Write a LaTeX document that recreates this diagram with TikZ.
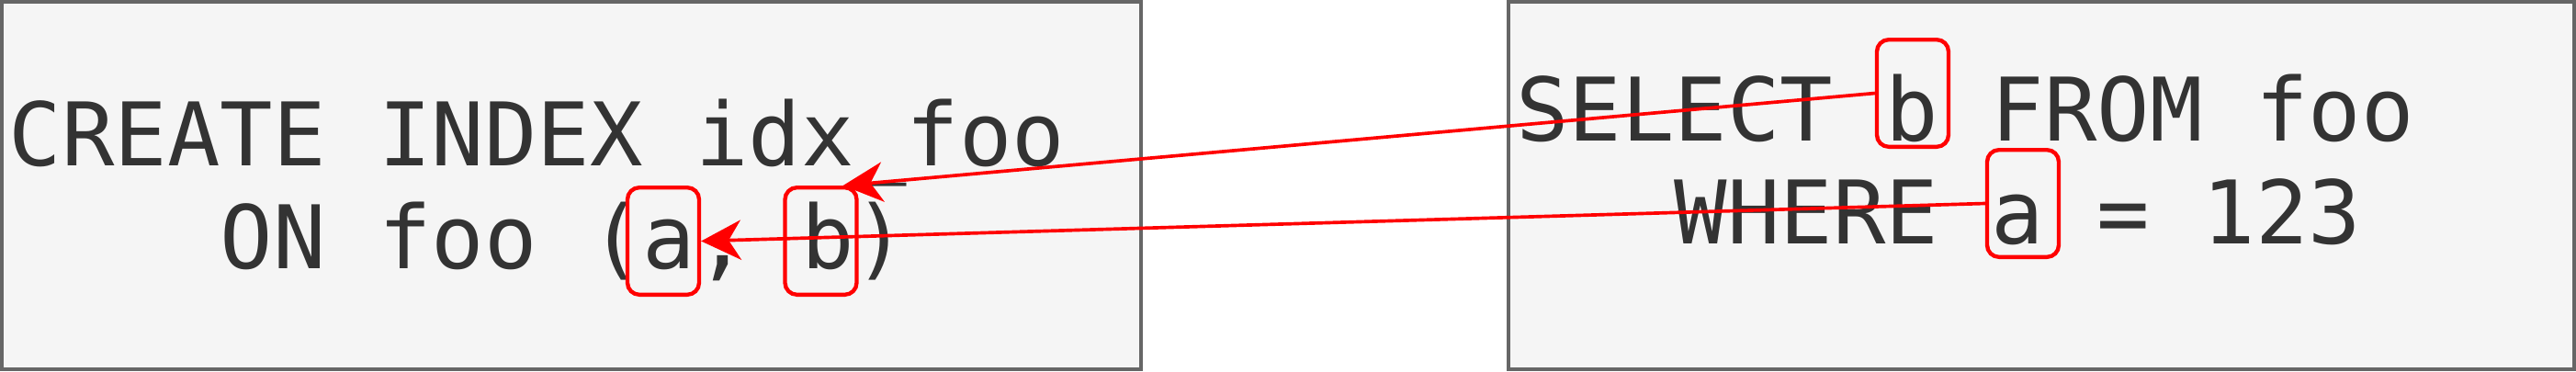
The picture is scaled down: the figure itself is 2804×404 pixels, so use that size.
\documentclass[tikz,border=0pt]{standalone}
\usepackage{fontspec}
\usetikzlibrary{arrows.meta,calc}
\newfontfamily\codefont{DejaVu Sans Mono}
\definecolor{boxgray}{HTML}{666666}
\definecolor{boxfill}{HTML}{F5F5F5}
\definecolor{txt}{HTML}{333333}
\definecolor{hl}{HTML}{FF0000}
\tikzset{
 panel/.style={draw=boxgray, fill=boxfill, line width=1.2pt, inner sep=0pt, minimum width=#1, minimum height=120pt},
 code/.style={font=\codefont\fontsize{28.65}{33.6}\selectfont, text=txt, inner sep=0pt, anchor=base west},
 hlbox/.style={draw=hl, line width=1.3pt, rounded corners=3.9pt, minimum width=23.4pt, minimum height=35pt, inner sep=0pt},
 link/.style={draw=hl, line width=1.1pt, -{Stealth[length=13pt,width=13pt,inset=4pt]}}
}
\begin{document}
\begin{tikzpicture}[x=0.3pt,y=-0.3pt]
\useasboundingbox (0,0) rectangle (2804,404);
\node[panel=372pt] (left) at (622,202) {};
\node[panel=348pt] (right) at (2222,202) {};
\node[code] (l1) at (9,180) {CREATE INDEX idx\_foo};
\node[code] (l2) at (9,292) {\phantom{xxxx}ON foo (a, b)};
\node[code] (r1) at (1649.5,153) {SELECT b FROM foo};
\node[code] (r2) at (1649.5,265) {\phantom{xxx}WHERE a = 123};
\node[hlbox] (la) at (722,262.5) {};
\node[hlbox] (lb) at (893.5,262.5) {};
\node[hlbox] (rb) at (2082,101.5) {};
\node[hlbox] (ra) at (2202,221.5) {};
\draw[link] (rb.west) -- ($(lb.north east)+(-17,0)$);
\draw[link] (ra.west) -- (la.east);
\end{tikzpicture}
\end{document}
